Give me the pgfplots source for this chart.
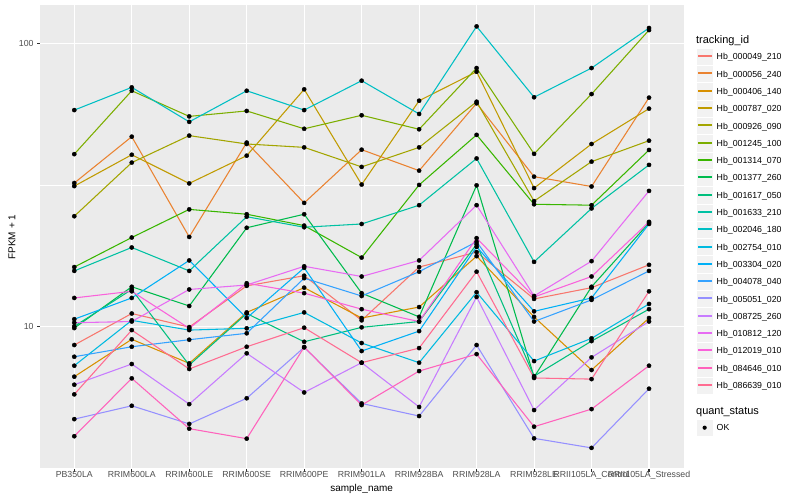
\documentclass[border=0pt]{standalone}
\usepackage{fontspec}
\setmainfont{Liberation Sans}
\usepackage{pgfplots}
\pgfplotsset{compat=1.18}
\usepackage{pgfplotstable}

% ggplot hue palette, 20 levels
\definecolor{c1}{HTML}{F8766D}
\definecolor{c2}{HTML}{EA8331}
\definecolor{c3}{HTML}{D89000}
\definecolor{c4}{HTML}{C09B00}
\definecolor{c5}{HTML}{A3A500}
\definecolor{c6}{HTML}{7CAE00}
\definecolor{c7}{HTML}{39B600}
\definecolor{c8}{HTML}{00BB4E}
\definecolor{c9}{HTML}{00BF7D}
\definecolor{c10}{HTML}{00C1A3}
\definecolor{c11}{HTML}{00BFC4}
\definecolor{c12}{HTML}{00BAE0}
\definecolor{c13}{HTML}{00B0F6}
\definecolor{c14}{HTML}{35A2FF}
\definecolor{c15}{HTML}{9590FF}
\definecolor{c16}{HTML}{C77CFF}
\definecolor{c17}{HTML}{E76BF3}
\definecolor{c18}{HTML}{FA62DB}
\definecolor{c19}{HTML}{FF62BC}
\definecolor{c20}{HTML}{FF6C91}
\definecolor{panelbg}{HTML}{EBEBEB}
\definecolor{keybg}{HTML}{F2F2F2}
\definecolor{grey30}{HTML}{4D4D4D}
\definecolor{grey20}{HTML}{333333}

% FPKM + 1, one row per sample, one column per tracking_id
\pgfplotstableread{
x  s1   s2   s3   s4   s5   s6    s7   s8   s9   s10  s11   s12  s13  s14  s15  s16  s17  s18  s19  s20
0  8.59 32.1 6.64 31.3 24.5 40.6  16.2 9.86 10.0 15.7 58.1  7.26 10.6 7.81 4.70 6.22 10.3 12.6 4.09 5.75
1  11.1 46.8 9.00 40.4 37.9 68.0  20.6 13.8 13.5 19.0 69.9  10.5 12.6 8.47 5.24 7.36 10.4 13.3 6.55 9.70
2  9.94 20.7 7.40 32.0 47.2 55.2  25.9 11.8 7.30 15.7 52.8  9.70 17.1 8.97 4.52 5.31 13.5 9.84 4.35 7.07
3  13.9 44.6 11.2 40.1 44.1 57.7  24.9 22.3 11.1 24.4 68.0  9.84 10.7 9.45 5.57 8.03 14.0 14.2 4.01 8.47
4  15.1 27.3 13.7 68.8 42.9 49.9  22.7 24.9 8.82 22.4 58.1  11.2 16.1 14.8 8.43 5.84 16.3 13.1 8.45 9.89
5  10.5 42.1 10.7 31.7 36.6 55.7  17.5 13.1 9.92 23.0 73.8  8.73 8.18 12.8 5.34 7.44 15.0 11.5 5.27 7.44
6  16.2 35.5 11.7 62.7 42.9 49.7  31.6 10.8 10.4 26.8 56.3  7.44 9.62 15.6 4.82 5.19 17.1 10.4 6.95 8.38
7  18.3 61.4 17.7 79.4 62.2 81.8  47.5 31.5 19.5 39.2 114.8 13.2 19.1 19.9 8.59 12.7 26.8 20.5 7.98 15.6
8  12.5 33.8 10.8 30.8 27.7 40.7  27.0 6.62 6.67 16.9 64.5  7.54 11.3 10.4 4.02 5.06 12.8 12.7 4.42 6.57
9  13.7 31.2 7.01 44.1 38.2 66.2  26.8 13.8 8.87 26.1 81.8  9.07 12.6 12.4 3.72 7.77 17.0 15.0 5.10 6.51
10 16.5 64.3 10.7 58.8 45.3 111.4 42.0 23.2 11.5 37.2 113.3 12.0 23.0 15.7 6.02 10.4 30.1 23.4 7.26 13.3
}\fpkm

\begin{document}
\begin{tikzpicture}
\useasboundingbox (0bp,0bp) rectangle (800bp,500bp);
\begin{axis}[
    at={(39.8bp,31bp)}, anchor=south west,
    width=643.7bp, height=463.7bp, scale only axis,
    xmin=-0.6, xmax=10.6,
    ymode=log, ymin=3.133, ymax=136.3,
    axis background/.style={fill=panelbg},
    axis line style={draw=none},
    xtick={0,...,10},
    xticklabels={PB350LA, RRIM600LA, RRIM600LE, RRIM600SE, RRIM600PE, RRIM901LA,
        RRIM928BA, RRIM928LA, RRIM928LE, RRII105LA\_Control, RRII105LA\_Stressed},
    ytick={10,100}, yticklabels={10,100},
    yminorticks=false,
    extra y ticks={3.16228,31.6228}, extra y tick labels={},
    extra y tick style={major grid style={white, line width=0.53pt}, major tick length=0pt},
    grid=major, major grid style={white, line width=1.07pt},
    tick align=outside, major tick length=2.75pt, tick pos=left,
    tick style={grey20, line width=1.07pt},
    ticklabel style={font=\fontsize{8.8}{10}\selectfont, text=grey30},
    xticklabel style={yshift=4pt},
    xlabel={sample\_name}, ylabel={FPKM + 1},
    label style={font=\fontsize{11}{13}\selectfont},
    every axis x label/.style={at={(axis description cs:0.5,-0.0496)}, anchor=base},
    every axis y label/.style={at={(axis description cs:-0.0432,0.5)}, anchor=center, rotate=90},
]
\pgfplotsinvokeforeach{1,...,20}{
    \addplot[color=c#1, line width=1.07pt, line join=round, mark=none] table[x=x, y=s#1] {\fpkm};
}
\pgfplotsinvokeforeach{1,...,20}{
    \addplot[only marks, mark=*, mark size=2.1pt, mark options={fill=black, draw=none}] table[x=x, y=s#1] {\fpkm};
}
\end{axis}

\begin{scope}[x=1bp, y=1bp]
% legend: tracking_id
\node[anchor=base west, inner sep=0pt, font=\fontsize{11}{13}\selectfont] at (696,456.4) {tracking\_id};
\foreach \i/\nm in {1/000049\_210, 2/000056\_240, 3/000406\_140, 4/000787\_020, 5/000926\_090,
    6/001245\_100, 7/001314\_070, 8/001377\_260, 9/001617\_050, 10/001633\_210,
    11/002046\_180, 12/002754\_010, 13/003304\_020, 14/004078\_040, 15/005051\_020,
    16/008725\_260, 17/010812\_120, 18/012019\_010, 19/084646\_010, 20/086639\_010} {
  \pgfmathsetmacro\yc{443.3-17.3*(\i-1)}
  \pgfmathsetmacro\yl{floor(\yc)}
  \filldraw[fill=keybg, draw=white, line width=0.5pt] (696,\yc-8.65) rectangle (713.3,\yc+8.65);
  \fill[fill=c\i] (697.7,\yl-0.1) rectangle (711.6,\yl+1.6);
  \node[anchor=base west, inner sep=0pt, font=\fontsize{8.8}{10}\selectfont] at (716.5,\yc-3.15) {Hb\_\nm};
}

% legend: quant_status
\node[anchor=base west, inner sep=0pt, font=\fontsize{11}{13}\selectfont] at (696,85.5) {quant\_status};
\filldraw[fill=keybg, draw=white, line width=0.5pt] (696,63.65) rectangle (713.3,80.95);
\fill[black] (704.65,72.3) circle (2.1);
\node[anchor=base west, inner sep=0pt, font=\fontsize{8.8}{10}\selectfont] at (716.5,69.15) {OK};
\end{scope}
\end{tikzpicture}
\end{document}
